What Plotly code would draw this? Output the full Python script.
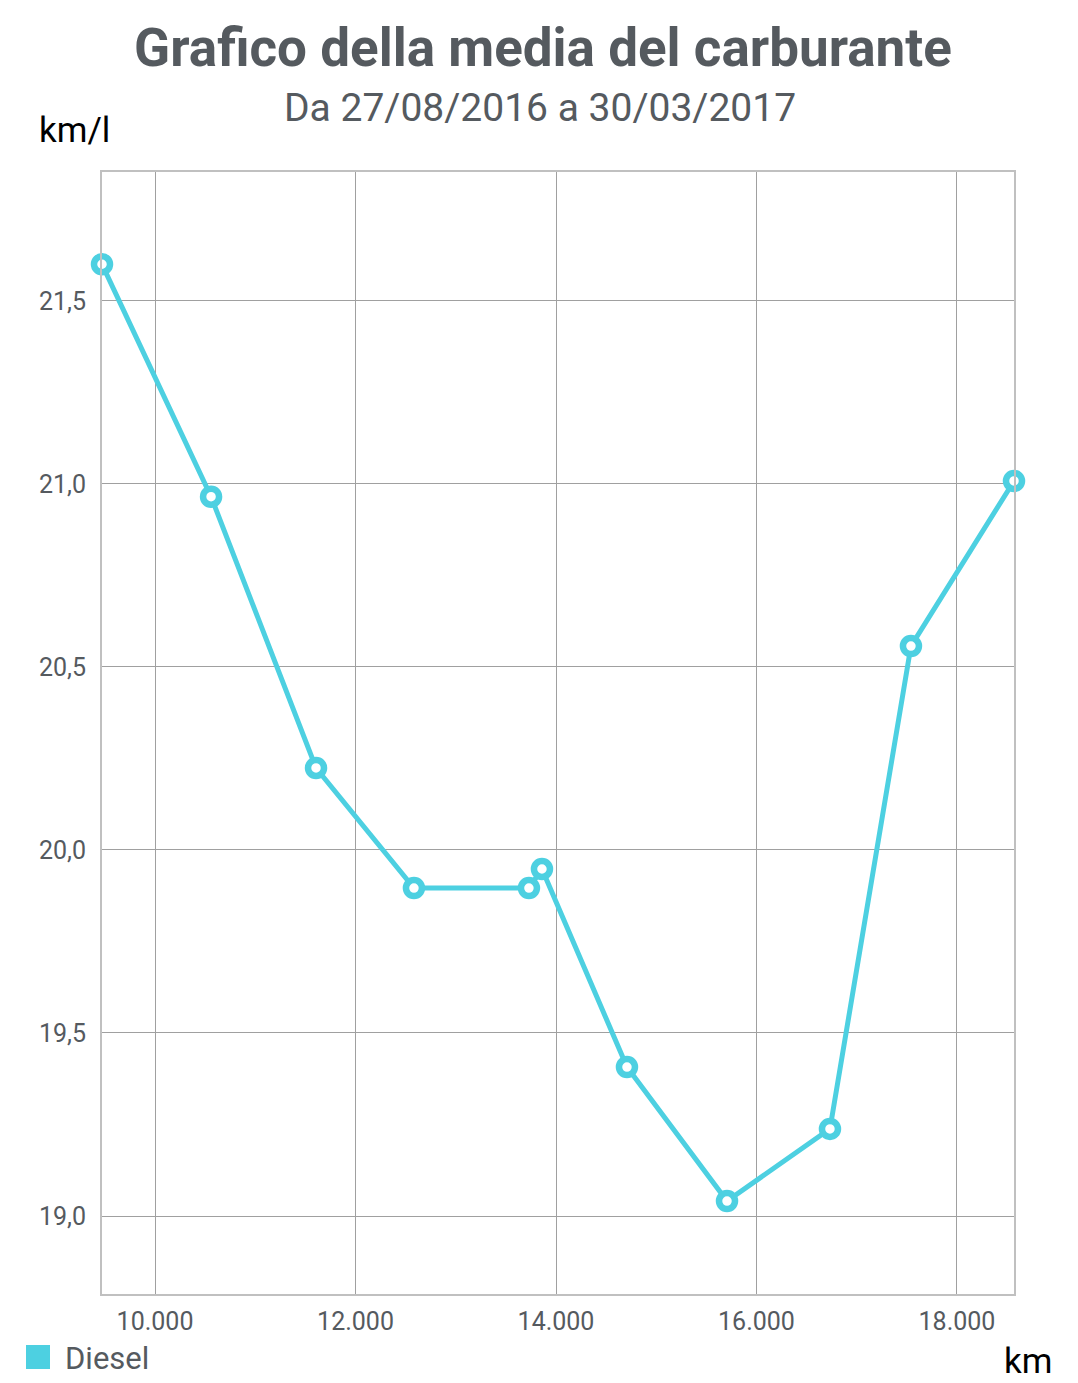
import plotly.graph_objects as go

# km al rifornimento e media km/l
km = [9471, 10559, 11606, 12583, 13730, 13860, 14708, 15706, 16733, 17541, 18569]
media = [21.60, 20.965, 20.224, 19.896, 19.896, 19.948, 19.407, 19.041, 19.238, 20.557, 21.008]

x_ticks = [10000, 12000, 14000, 16000, 18000]
x_labels = ["10.000", "12.000", "14.000", "16.000", "18.000"]
y_ticks = [19.0, 19.5, 20.0, 20.5, 21.0, 21.5]
y_labels = ["19,0", "19,5", "20,0", "20,5", "21,0", "21,5"]

colore = "#4DD0E1"
grigio_testo = "#555A5F"

# area del grafico (pixel nel riferimento): 102..1014 x 172..1294
PW, PH = 912, 1122

def px(x):
	return (x - 102) / PW

def py(y):
	return (1294 - y) / PH

def main():
	fig = go.Figure()
	fig.add_trace(go.Scatter(
		x=km, y=media, mode="lines+markers", name="Diesel",
		line=dict(color=colore, width=5),
		marker=dict(size=16, color="white", line=dict(color=colore, width=6.5)),
		cliponaxis=False, showlegend=False,
	))

	# la pagina ha 8px di margine, quindi figura un po' piu piccola
	fig.update_layout(
		width=1070, height=1375,
		margin=dict(l=94, r=64, t=164, b=89),
		paper_bgcolor="white", plot_bgcolor="white",
		font=dict(family="Roboto", color=grigio_testo),
		title=dict(
			text="<b>Grafico della media del carburante</b>",
			x=0.5, xanchor="center", y=1 - 39 / 1375, yanchor="middle",
			font=dict(size=53, color=grigio_testo),
		),
	)

	fig.update_xaxes(
		range=[9471, 18569], tickvals=x_ticks, ticktext=x_labels,
		tickfont=dict(size=25, color=grigio_testo),
		showgrid=True, gridcolor="#A0A0A0", gridwidth=1,
		showline=True, linecolor="#C0C0C0", linewidth=2, mirror=True,
		ticks="", zeroline=False, ticklabelstandoff=4,
	)
	fig.update_yaxes(
		range=[18.787, 21.852], tickvals=y_ticks, ticktext=y_labels,
		tickfont=dict(size=25, color=grigio_testo),
		showgrid=True, gridcolor="#A0A0A0", gridwidth=1,
		showline=True, linecolor="#C0C0C0", linewidth=2, mirror=True,
		ticks="", zeroline=False, ticklabelstandoff=9,
	)

	# sottotitolo e unita
	fig.add_annotation(text="Da 27/08/2016 a 30/03/2017", xref="paper", yref="paper",
		x=px(540), y=py(108), yanchor="middle", showarrow=False,
		font=dict(size=39, color=grigio_testo))
	fig.add_annotation(text="km/l", xref="paper", yref="paper",
		x=px(37), xanchor="left", y=py(131), yanchor="middle",
		showarrow=False, font=dict(size=35, color="black"))
	fig.add_annotation(text="km", xref="paper", yref="paper",
		x=px(1054), xanchor="right", y=py(1361), yanchor="middle",
		showarrow=False, font=dict(size=35, color="black"))

	# legenda
	fig.add_shape(type="rect", xref="paper", yref="paper",
		x0=px(26), x1=px(50), y0=py(1369), y1=py(1345),
		fillcolor=colore, line=dict(width=0))
	fig.add_annotation(text="Diesel", xref="paper", yref="paper",
		x=px(63), xanchor="left", y=py(1358), yanchor="middle",
		showarrow=False, font=dict(size=31, color=grigio_testo))

	fig.write_html("out.html")

if __name__ == '__main__':
	main()
